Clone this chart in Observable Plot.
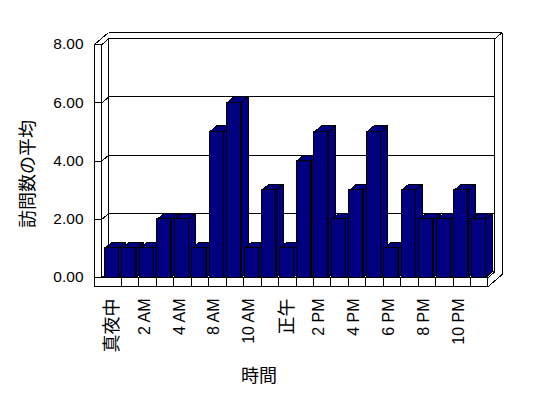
<!DOCTYPE html>
<html><head><meta charset="utf-8">
<script src="https://cdn.jsdelivr.net/npm/d3@7"></script>
<script src="https://cdn.jsdelivr.net/npm/@observablehq/plot@0.6"></script>
<style>body{margin:0;background:#fff}</style>
</head><body><div id="chart"></div>
<script>
const categories = ["真夜中","1 AM","2 AM","3 AM","4 AM","5 AM","8 AM","9 AM","10 AM","11 AM","正午","1 PM","2 PM","3 PM","4 PM","5 PM","6 PM","7 PM","8 PM","9 PM","10 PM","11 PM"];
const values = [1,1,1,2,2,1,5,6,1,3,1,4,5,2,3,5,1,3,2,2,3,2];
const tickLabels = ["真夜中","2 AM","4 AM","8 AM","10 AM","正午","2 PM","4 PM","6 PM","8 PM","10 PM"];
const yTicks = [0,2,4,6,8];
const yTitle = "訪問数の平均";
const xTitle = "時間";

// layout (pixels)
const W = 548, H = 398, mL = 103.3, mR = 60.3, mT = 44, mB = 121;
const n = categories.length;
const yMax = d3.max(yTicks);
const pxX = (W - mL - mR) / n, pxY = (H - mT - mB) / yMax;
const ddx = 7 / pxX, ddy = 6 / pxY;          // depth offset in scale units
const xLO = -9.3 / pxX, xLI = -1.8 / pxX;     // left wall front face
const fb = -9 / pxY;                          // floor slab bottom
const a = 1 / pxX, b = 15 / pxX;              // bar insets
const NAVY = "#000080";
const FONT = "'Liberation Sans','Noto Sans CJK JP',sans-serif";
const CR = "crispEdges";

const rows = categories.map((c, i) => ({c, i, v: values[i]}));
const poly = (id, pts) => pts.concat([pts[0]]).map(([x, y], k) => ({id, k, x, y}));
const sides = rows.flatMap(d => poly(d.i, [[d.i + b, 0], [d.i + b, d.v], [d.i + b + ddx, d.v + ddy], [d.i + b + ddx, ddy]]));
const tops = rows.flatMap(d => poly(d.i, [[d.i + a, d.v], [d.i + b, d.v], [d.i + b + ddx, d.v + ddy], [d.i + a + ddx, d.v + ddy]]));

// wall / floor outline segments
const segs = [];
yTicks.filter(v => v > 0 && v < yMax).forEach(v => {
  segs.push([xLI + ddx, v + ddy, n + ddx, v + ddy]);   // back wall grid
  segs.push([xLO, v, xLI, v]);                          // left wall front tick
});
yTicks.filter(v => v < yMax).forEach(v => segs.push([xLI, v, xLI + ddx, v + ddy])); // side wall grid
segs.push([xLO, yMax, xLO + 2 * ddx, yMax + 2 * ddy]);
segs.push([xLI, yMax, xLI + ddx, yMax + ddy]);
segs.push([xLO + 2 * ddx, yMax + 2 * ddy, n + 2 * ddx, yMax + 2 * ddy]);
segs.push([n + ddx, yMax + ddy, n + 2 * ddx, yMax + 2 * ddy]);
segs.push([n + 2 * ddx, yMax + 2 * ddy, n + 2 * ddx, fb + 2 * ddy]);
segs.push([n + 2 * ddx, fb + 2 * ddy, n + ddx, fb + ddy]);
segs.push([n, fb, n + ddx, fb + ddy]);
segs.push([n, 0, n + ddx, ddy]);
d3.range(1, n).forEach(k => segs.push([k, fb, k, 0]));   // floor cell dividers
const segRows = segs.map(([x1, y1, x2, y2]) => ({x1, y1, x2, y2}));

const isCJK = s => /[^\x00-\x7f]/.test(s);
const tickRows = tickLabels.map(l => ({l, i: categories.indexOf(l)}));
const cjkTicks = tickRows.filter(d => isCJK(d.l));
const latinTicks = tickRows.filter(d => !isCJK(d.l));

const chart = Plot.plot({
  width: W, height: H,
  marginLeft: mL, marginRight: mR, marginTop: mT, marginBottom: mB,
  x: {type: "linear", domain: [0, n], axis: null},
  y: {domain: [0, yMax], axis: null},
  style: {fontFamily: FONT, background: "white", overflow: "visible", color: "black"},
  marks: [
    Plot.rect([0], {x1: () => xLI + ddx, x2: () => n + ddx, y1: () => ddy, y2: () => yMax + ddy, fill: "white", stroke: "black", shapeRendering: CR}),
    Plot.rect([0], {x1: () => xLO, x2: () => xLI, y1: () => 0, y2: () => yMax, fill: "white", stroke: "black", shapeRendering: CR}),
    Plot.rect([0], {x1: () => xLO, x2: () => n, y1: () => fb, y2: () => 0, fill: "white", stroke: "black", shapeRendering: CR}),
    Plot.link(segRows, {x1: "x1", y1: "y1", x2: "x2", y2: "y2", stroke: "black", strokeWidth: 1, shapeRendering: CR}),
    Plot.line(sides, {x: "x", y: "y", z: "id", fill: NAVY, stroke: "black", strokeWidth: 1, curve: "linear", shapeRendering: CR}),
    Plot.line(tops, {x: "x", y: "y", z: "id", fill: NAVY, stroke: "black", strokeWidth: 1, curve: "linear", shapeRendering: CR}),
    Plot.rect(rows, {x1: d => d.i + a, x2: d => d.i + b, y1: () => 0, y2: d => d.v, fill: NAVY, stroke: "black", strokeWidth: 1, shapeRendering: CR}),
    Plot.text(yTicks, {x: () => xLO, y: d => d, text: d => d.toFixed(2), textAnchor: "end", lineAnchor: "middle", dx: -11, fontSize: 15.5, fill: "black"}),
    Plot.text(latinTicks, {x: d => d.i + 0.5, y: () => 0, text: "l", rotate: -90, textAnchor: "end", lineAnchor: "middle", dx: -3, dy: 21, fontSize: 16, fill: "black"}),
    Plot.text(cjkTicks, {x: d => d.i + 0.5, y: () => 0, text: "l", rotate: -90, textAnchor: "end", lineAnchor: "middle", dx: -0.5, dy: 21, fontSize: 18, fill: "black"}),
    Plot.text([yTitle], {frameAnchor: "left", text: d => d, rotate: -90, textAnchor: "middle", lineAnchor: "middle", dx: -76, dy: 13, fontSize: 18, fill: "black"}),
    Plot.text([xTitle], {frameAnchor: "bottom", text: d => d, textAnchor: "middle", lineAnchor: "middle", dx: -37, dy: 99, fontSize: 18, fill: "black"})
  ]
});
document.getElementById("chart").appendChild(chart);
</script>
</body></html>
